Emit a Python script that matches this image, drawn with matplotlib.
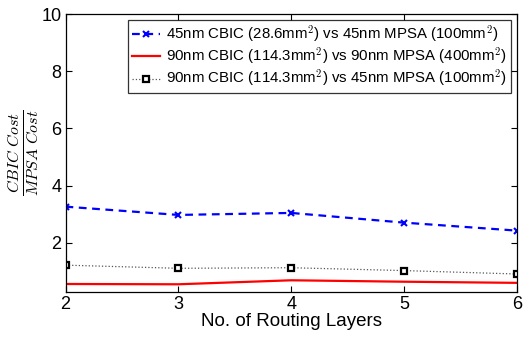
import matplotlib
matplotlib.use("Agg")
import matplotlib.pyplot as plt

layers = [2, 3, 4, 5, 6]
s45 = [3.26, 2.97, 3.04, 2.70, 2.42]
s90 = [0.55, 0.54, 0.68, 0.63, 0.59]
s90_45 = [1.21, 1.10, 1.12, 1.02, 0.90]
labels = [r"45nm CBIC (28.6mm$^2$) vs 45nm MPSA (100mm$^2$)",
          r"90nm CBIC (114.3mm$^2$) vs 90nm MPSA (400mm$^2$)",
          r"90nm CBIC (114.3mm$^2$) vs 45nm MPSA (100mm$^2$)"]

plt.rcParams['font.family'] = ['Liberation Sans', 'DejaVu Sans']
plt.rcParams['mathtext.fontset'] = 'cm'

W, H = 524, 338
fig = plt.figure(figsize=(W/100, H/100), dpi=100)
ax = fig.add_axes([65.5/W, 1-291.7/H, (517-65.5)/W, (291.7-14.3)/H])

ax.plot(layers, s45, color='blue', linestyle='--', linewidth=1.6, dashes=(3.5, 2.5),
        marker='x', markersize=4, markeredgewidth=1.5, label=labels[0])
ax.plot(layers, s90, color='red', linestyle='-', linewidth=1.6, label=labels[1])
ax.plot(layers, s90_45, color='#555555', linestyle=':', linewidth=0.9, marker='s', markersize=4.5,
        markerfacecolor='white', markeredgecolor='black', markeredgewidth=1.6, label=labels[2])

ax.set_xlim(2, 6)
ax.set_ylim(0.28, 10)
ax.set_xticks(layers)
ax.set_yticks([2, 4, 6, 8, 10])
ax.tick_params(direction='in', top=True, right=True, labelsize=13, length=4, pad=3)
for s in ax.spines.values():
    s.set_linewidth(0.9)
ax.set_xlabel("No. of Routing Layers", fontsize=13.5, labelpad=0)
ax.set_ylabel(r"$\frac{CBIC\ Cost}{MPSA\ Cost}$", fontsize=16.5, labelpad=1)
leg = ax.legend(loc='upper right', bbox_to_anchor=(511/W, 1-20/H), bbox_transform=fig.transFigure,
                fontsize=10.8, frameon=True, fancybox=False, edgecolor='black', borderaxespad=0,
                handlelength=1.9, handletextpad=0.4, labelspacing=0.08, borderpad=0.25)
leg.get_frame().set_linewidth(0.9)

fig.savefig("out.png", dpi=100)
